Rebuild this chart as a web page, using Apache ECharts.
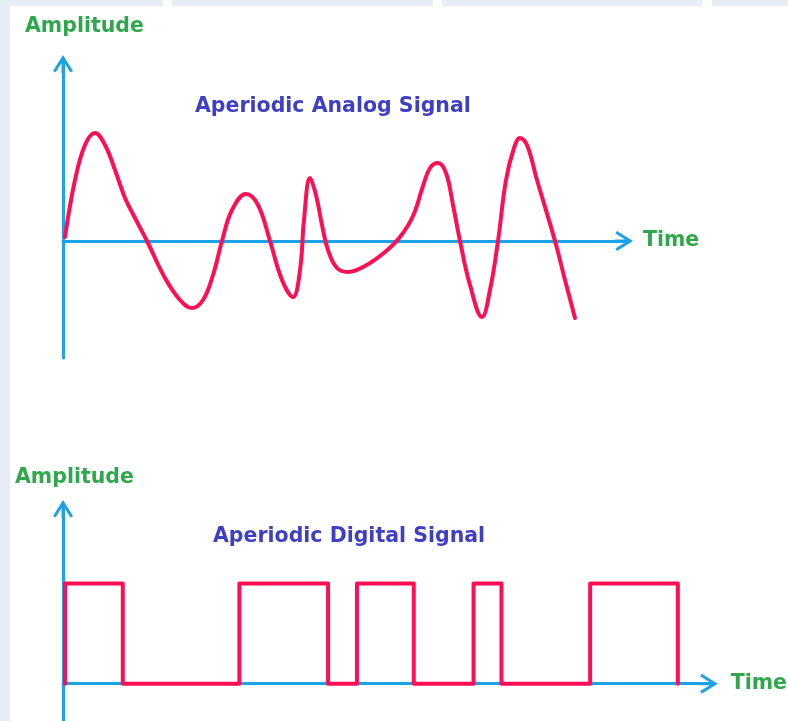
<!DOCTYPE html>
<html>
<head>
<meta charset="utf-8">
<script src="https://cdn.jsdelivr.net/npm/echarts@6/dist/echarts.min.js"></script>
<style>
html,body{margin:0;padding:0;background:#fff;}
#c{width:788px;height:721px;}
</style>
</head>
<body>
<div id="c"></div>
<script>
// Analog signal: [time, amplitude]
const analogTime = [0.02,0.12,0.22,0.32,0.42,0.52,0.62,0.72,0.84,1.02,1.17,1.29,1.40,1.50,1.59,1.69,1.83,1.95,2.07,2.19,2.30,2.37,2.41,2.47,2.53,2.59,2.65,2.74,2.85,3.02,3.22,3.37,3.50,3.60,3.67,3.75,3.83,3.90,3.97,4.07,4.19,4.27,4.35,4.43,4.51,4.57,4.64,4.74,4.92,5.02,5.12];
const analogAmp  = [0.04,0.61,0.96,1.08,0.96,0.71,0.43,0.23,0.00,-0.37,-0.59,-0.67,-0.59,-0.34,0.00,0.31,0.47,0.36,0.00,-0.39,-0.56,-0.29,0.21,0.63,0.46,0.16,-0.09,-0.27,-0.31,-0.25,-0.11,0.04,0.25,0.55,0.73,0.78,0.68,0.36,0.00,-0.44,-0.76,-0.49,0.00,0.61,0.93,1.03,0.96,0.61,0.00,-0.39,-0.77];

// Digital signal: edge times and levels (level holds from edge i to edge i+1)
const digitalEdges  = [0.02,0.60,1.77,2.66,2.95,3.52,4.12,4.40,5.29,6.17];
const digitalLevels = [1,0,1,0,1,0,1,0,1,0];

const texts = {
  amp: 'Amplitude',
  time: 'Time',
  analogTitle: 'Aperiodic Analog Signal',
  digitalTitle: 'Aperiodic Digital Signal'
};

const analogData = analogTime.map((t,i)=>[t, analogAmp[i]]);
const digitalData = [[digitalEdges[0],0]];
digitalEdges.forEach((t,i)=>{ digitalData.push([t, digitalLevels[i]]); });

const AXIS = '#1ca3e6';
const PINK = '#ff0d55';
const GREEN = '#2fa84c';
const BLUE = '#3f3fc4';
const FONT = 'DejaVu Sans';
const chevron = 'path://M10,0 L20,16 L17.4,17.6 L11.5,8 L11.5,18 L8.5,18 L8.5,8 L2.6,17.6 L0,16 Z';

function axisLine(){
  return {show:true, onZero:true, symbol:['none', chevron], symbolSize:[20,18],
          lineStyle:{color:AXIS, width:3}};
}
const nameStyle = {color:GREEN, fontFamily:FONT, fontWeight:'bold', fontSize:20.5};
const titleStyle = {color:BLUE, fontFamily:FONT, fontWeight:'bold', fontSize:20.5};

const chart = echarts.init(document.getElementById('c'), null, {renderer:'canvas'});
chart.setOption({
  backgroundColor:'#ffffff',
  animation:false,
  graphic:[
    {type:'rect', shape:{x:0,y:0,width:788,height:6}, style:{fill:'#e8ecf5'}, z:-10},
    {type:'rect', shape:{x:0,y:0,width:10,height:721}, style:{fill:'#e8ecf5'}, z:-10},
    {type:'rect', shape:{x:163,y:0,width:9,height:6}, style:{fill:'#ffffff'}, z:-9},
    {type:'rect', shape:{x:433,y:0,width:9,height:6}, style:{fill:'#ffffff'}, z:-9},
    {type:'rect', shape:{x:702,y:0,width:10,height:6}, style:{fill:'#ffffff'}, z:-9}
  ],
  title:[
    {text:texts.amp, left:25, top:16, textStyle:nameStyle, padding:0},
    {text:texts.analogTitle, left:195, top:96, textStyle:titleStyle, padding:0},
    {text:texts.amp, left:15, top:467, textStyle:nameStyle, padding:0},
    {text:texts.digitalTitle, left:213, top:526, textStyle:titleStyle, padding:0}
  ],
  grid:[
    {left:63, top:64, width:561, height:294},
    {left:63, top:509, width:648, height:216}
  ],
  xAxis:[
    {type:'value', gridIndex:0, min:0, max:5.61, axisLine:axisLine(), axisTick:{show:false},
     axisLabel:{show:false}, splitLine:{show:false},
     name:texts.time, nameLocation:'end', nameGap:19, nameTextStyle:Object.assign({verticalAlign:'middle'}, nameStyle)},
    {type:'value', gridIndex:1, min:0, max:6.48, axisLine:axisLine(), axisTick:{show:false},
     axisLabel:{show:false}, splitLine:{show:false},
     name:texts.time, nameLocation:'end', nameGap:22, nameTextStyle:Object.assign({verticalAlign:'middle'}, nameStyle)}
  ],
  yAxis:[
    {type:'value', gridIndex:0, min:-1.17, max:1.77, axisLine:Object.assign(axisLine(),{onZero:false}),
     axisTick:{show:false}, axisLabel:{show:false}, splitLine:{show:false}},
    {type:'value', gridIndex:1, min:-0.3725, max:1.745, axisLine:Object.assign(axisLine(),{onZero:false}),
     axisTick:{show:false}, axisLabel:{show:false}, splitLine:{show:false}}
  ],
  series:[
    {type:'line', xAxisIndex:0, yAxisIndex:0, data:analogData, smooth:0.4, symbol:'none',
     lineStyle:{color:PINK, width:4, cap:'round', join:'round'}, z:1},
    {type:'line', xAxisIndex:1, yAxisIndex:1, data:digitalData, step:'end', symbol:'none',
     lineStyle:{color:PINK, width:4, cap:'round', join:'round'}, z:1}
  ]
});
</script>
</body>
</html>
